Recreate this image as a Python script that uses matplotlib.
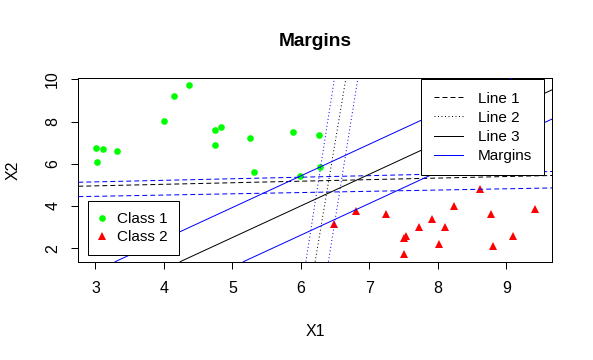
import matplotlib
matplotlib.use("Agg")
import matplotlib.pyplot as plt
from matplotlib.lines import Line2D

plt.rcParams["font.family"] = ["Liberation Sans", "DejaVu Sans"]

# class 1 (green circles)
class1_x1 = [3.01, 3.11, 3.03, 3.31, 4.00, 4.15, 4.36, 4.75, 4.84, 4.74,
             5.26, 5.31, 5.89, 5.99, 6.27, 6.28]
class1_x2 = [6.73, 6.69, 6.07, 6.59, 8.01, 9.20, 9.72, 7.59, 7.73, 6.88,
             7.21, 5.60, 7.49, 5.41, 7.35, 5.83]

# class 2 (red triangles)
class2_x1 = [6.49, 6.80, 7.24, 7.51, 7.50, 7.54, 7.73, 7.91, 8.10, 8.02,
             8.24, 8.62, 8.78, 8.81, 9.09, 9.42]
class2_x2 = [3.15, 3.75, 3.62, 1.74, 2.47, 2.60, 3.02, 3.37, 3.01, 2.20,
             4.00, 4.79, 3.64, 2.12, 2.58, 3.86]

# line 1: y = a + b*x, with its two margins
line1 = (4.732, 0.0738)
line1_margins = [(4.921, 0.0738), (4.280, 0.0594)]

# line 2: x = c + d*y, with its two margins
line2 = (6.137, 0.0517)
line2_margins = [(6.007, 0.0480), (6.334, 0.0495)]

# line 3: y = a + b*x, with its two margins
line3 = (-4.995, 1.5)
line3_margins = [(-3.572, 1.5), (-6.38, 1.5)]

x_ticks = [3, 4, 5, 6, 7, 8, 9]
y_ticks = [2, 4, 6, 8, 10]

LW = 0.72
DASHED = (0, (5, 3))
DOTTED = (0, (1, 2.5))

W, H = 593, 360
fig = plt.figure(figsize=(W / 100, H / 100), dpi=100)
left, right, top, bottom = 78.3, 552.3, 78.3, 261.7
ax = fig.add_axes([left / W, 1 - bottom / H, (right - left) / W, (bottom - top) / H])

ax.plot(class1_x1, class1_x2, "o", color="#00ff00", markersize=4.8, markeredgewidth=0, zorder=2)
ax.plot(class2_x1, class2_x2, "^", color="#ff0000", markersize=6.4, markeredgewidth=0, zorder=2)


def hline(p, **kw):
    a, b = p
    ax.axline((0, a), slope=b, linewidth=LW, zorder=3, **kw)


def vline(p, **kw):
    c, d = p
    ax.axline((c, 0), slope=1 / d, linewidth=LW, zorder=3, **kw)


hline(line1, color="black", linestyle=DASHED)
for m in line1_margins:
    hline(m, color="blue", linestyle=DASHED)

vline(line2, color="black", linestyle=DOTTED)
for m in line2_margins:
    vline(m, color="blue", linestyle=DOTTED)

hline(line3, color="black", linestyle="-")
for m in line3_margins:
    hline(m, color="blue", linestyle="-")

ax.set_xlim(2.75, 9.67)
ax.set_ylim(1.36, 10.05)
ax.set_xticks(x_ticks)
ax.set_xticklabels([str(v) for v in x_ticks])
ax.set_yticks(y_ticks)
ax.set_yticklabels([str(v) for v in y_ticks], rotation=90, va="center")
ax.tick_params(direction="out", length=5.0, width=LW, labelsize=11.5, colors="black")
ax.tick_params(axis="x", pad=9)
ax.tick_params(axis="y", pad=8)
for s in ax.spines.values():
    s.set_linewidth(LW)

# legend for lines
line_handles = [
    Line2D([], [], color="black", linewidth=LW, linestyle=DASHED),
    Line2D([], [], color="black", linewidth=LW, linestyle=DOTTED),
    Line2D([], [], color="black", linewidth=LW, linestyle="-"),
    Line2D([], [], color="#0000ff", linewidth=LW, linestyle="-"),
]
leg1 = ax.legend(line_handles, ["Line 1", "Line 2", "Line 3", "Margins"],
                 loc="upper right", bbox_to_anchor=(0.9825, 0.9945), borderaxespad=0,
                 fontsize=11, frameon=True, fancybox=False, framealpha=1,
                 edgecolor="black", borderpad=0.8, labelspacing=0.34,
                 handlelength=1.96, handletextpad=0.92)
leg1.get_frame().set_linewidth(LW)
leg1.set_zorder(5)
ax.add_artist(leg1)

# legend for classes
class_handles = [
    Line2D([], [], color="#00ff00", marker="o", linestyle="none", markersize=4.8, markeredgewidth=0),
    Line2D([], [], color="#ff0000", marker="^", linestyle="none", markersize=6.4, markeredgewidth=0),
]
leg2 = ax.legend(class_handles, ["Class 1", "Class 2"],
                 loc="lower left", bbox_to_anchor=(0.0211, 0.0365), borderaxespad=0,
                 fontsize=11, frameon=True, fancybox=False, framealpha=1,
                 edgecolor="black", borderpad=0.72, labelspacing=0.24,
                 handlelength=0.38, handletextpad=0.79)
leg2.get_frame().set_linewidth(LW)
leg2.set_zorder(5)

fig.text(315.3 / W, 1 - 45.7 / H, "Margins", ha="center", va="baseline",
         fontsize=13.8, fontweight="bold")
fig.text(315.3 / W, 1 - 336 / H, "X1", ha="center", va="baseline", fontsize=11.5)
fig.text(12.7 / W, 1 - 170 / H, "X2", ha="center", va="center", rotation=90, fontsize=11.5)

fig.savefig("out.png", dpi=100)
